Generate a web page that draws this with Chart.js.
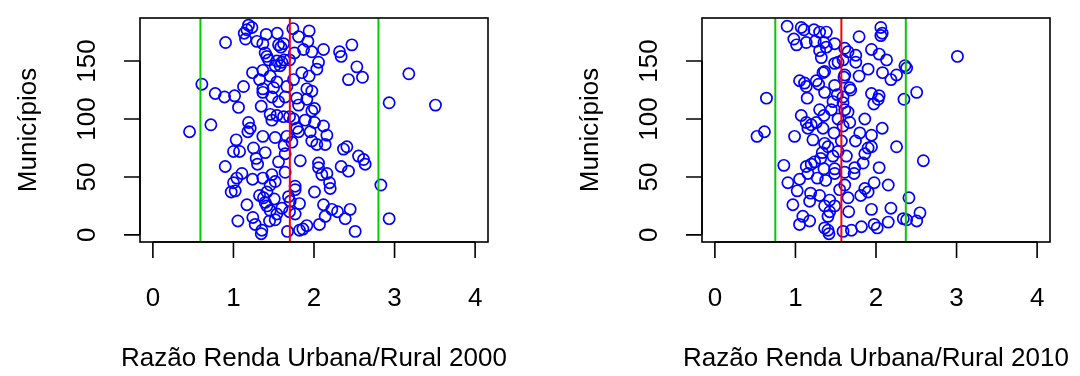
<!DOCTYPE html>
<html>
<head>
<meta charset="utf-8">
<script src="https://cdn.jsdelivr.net/npm/chart.js@4/dist/chart.umd.min.js"></script>
<style>
  html, body { margin:0; padding:0; background:#ffffff; }
  #wrap { position:relative; width:1080px; height:376px; }
  canvas { position:absolute; top:0; }
</style>
</head>
<body>
<div id="wrap">
  <canvas id="c1" width="540" height="376" style="left:0px"></canvas>
  <canvas id="c2" width="540" height="376" style="left:540px"></canvas>
</div>
<script>
// ---- data ----
const x2000 = [1.187,1.229,1.167,1.134,1.150,1.738,1.940,1.407,1.543,1.808,
1.924,0.902,1.291,1.365,1.560,1.589,1.622,2.470,2.118,1.870,
1.973,1.758,1.394,1.415,2.317,2.337,1.436,1.539,1.601,1.630,
1.696,2.056,2.035,2.532,1.580,1.518,1.365,1.237,1.849,1.940,
1.456,2.428,2.602,3.177,1.324,1.539,1.746,0.608,1.125,0.774,
0.889,1.014,1.365,1.365,1.498,1.663,1.911,1.973,1.477,1.642,
1.787,1.560,1.911,1.808,1.345,1.063,2.006,1.973,2.933,3.508,
1.456,1.539,1.622,1.696,1.477,1.746,1.890,2.006,2.118,0.720,
0.455,1.187,1.208,1.179,1.787,1.808,1.953,2.160,1.365,1.518,
1.663,1.725,1.973,2.035,2.139,1.034,1.630,1.249,1.001,1.076,
1.394,2.366,2.408,2.553,2.615,2.635,1.282,1.642,1.560,1.829,
2.056,1.299,2.056,2.337,0.898,2.428,2.160,2.097,1.642,1.105,
1.042,1.001,1.237,1.365,1.477,1.518,1.456,1.766,1.766,2.193,
2.201,2.830,0.972,1.022,2.006,1.324,1.415,1.373,1.394,1.684,
1.704,1.820,1.506,1.415,1.167,2.118,2.221,2.292,2.449,1.601,
1.696,1.766,2.139,2.387,1.241,1.055,1.448,1.518,1.270,2.933,
2.068,1.911,1.862,1.820,1.671,1.353,1.345,2.511,1.539,1.456];
const y2000 = [181,179,177,174,169,178,176,173,174,171,
167,166,167,165,164,162,165,164,160,160,
158,157,157,154,158,154,151,150,149,151,
151,149,143,145,146,146,142,140,140,137,
137,134,136,139,134,132,134,130,128,122,
119,120,126,123,127,128,126,124,119,119,
118,115,117,112,111,110,109,107,114,112,
104,103,102,102,99,100,99,97,94,95,
89,97,92,89,92,89,89,86,85,84,
85,80,81,78,78,82,77,75,72,72,
71,74,76,68,65,61,66,70,63,64,
62,61,58,59,59,55,53,52,54,53,
49,45,48,49,52,46,43,42,39,45,
40,43,37,38,37,34,37,32,28,33,
29,27,31,25,26,26,22,20,22,23,
20,18,16,14,15,12,12,13,9,14,
9,8,5,4,3,4,1,3,18,21];
const x2010 = [0.897,1.072,1.105,1.230,1.300,1.383,2.060,2.077,2.060,1.790,
0.980,1.134,1.246,1.354,1.487,1.014,1.383,1.612,1.944,1.300,
1.321,1.653,1.749,1.749,2.039,2.131,3.011,1.591,1.529,1.487,
2.359,2.380,1.902,1.362,1.342,1.612,1.790,2.081,2.255,2.185,
1.051,1.113,1.134,1.259,1.288,1.487,1.674,1.686,1.603,1.362,
2.505,0.640,1.146,1.520,1.944,2.039,2.027,1.973,2.347,1.466,
1.591,1.445,1.612,1.653,1.072,1.300,1.354,1.529,1.674,1.861,
1.134,1.196,1.259,1.155,1.342,2.077,0.615,0.523,0.989,1.217,
1.479,1.570,1.799,1.944,1.745,1.362,1.404,1.902,1.944,2.255,
1.529,1.333,1.313,1.632,1.861,2.588,1.238,0.856,1.134,1.196,
1.354,1.840,2.039,1.736,1.728,1.612,1.155,1.487,1.271,1.375,
1.051,0.906,1.977,2.152,1.612,1.549,1.022,1.861,1.902,1.811,
1.653,1.188,1.300,1.176,1.425,0.968,1.362,1.487,1.425,1.404,
1.661,1.944,2.185,2.409,2.546,1.092,1.176,1.051,2.152,2.339,
2.380,2.505,1.819,1.977,2.015,1.362,1.404,1.591,1.695,1.416,
1.487,1.466,1.591,1.591];
const y2010 = [180,179,177,177,175,175,179,174,172,171,
169,166,167,166,165,164,162,161,160,159,
153,158,155,149,156,151,154,151,149,148,
146,144,143,141,140,138,137,140,138,134,
133,131,128,133,130,129,127,125,136,123,
123,118,118,121,122,120,117,113,117,115,
114,108,108,106,103,108,103,100,97,100,
97,95,97,92,92,92,89,85,85,82,
88,81,88,86,81,79,76,75,76,76,
72,71,66,68,70,64,63,60,59,61,
57,62,58,58,53,54,53,53,49,47,
48,45,45,43,43,39,38,40,37,34,
32,36,34,29,30,26,25,25,20,16,
20,22,23,32,19,16,12,9,11,14,
13,12,7,9,6,6,4,3,4,1,
57,68,94,119];
const refLines2000 = { low: 0.59, mid: 1.70, high: 2.80 };
const refLines2010 = { low: 0.75, mid: 1.57, high: 2.37 };
const xTicks = [0, 1, 2, 3, 4];
const yTicks = [0, 50, 100, 150];
const xTitles = ["Razão Renda Urbana/Rural 2000", "Razão Renda Urbana/Rural 2010"];
const yTitle = "Municípios";
const xRange = [-0.16, 4.16];
const yRange = [-6.16, 187.16];

// ---- drawing ----
const FONT = '26px "Liberation Sans", Arial, sans-serif';

const rAxes = {
  id: 'rAxes',
  afterDraw(chart, args, opts) {
    const ctx = chart.ctx, a = chart.chartArea;
    const xs = chart.scales.x, ys = chart.scales.y;
    ctx.save();
    ctx.strokeStyle = '#000';
    ctx.lineWidth = 1.6;
    ctx.strokeRect(a.left, a.top, a.right - a.left, a.bottom - a.top);
    ctx.beginPath();
    const xa = xs.getPixelForValue(xTicks[0]), xb = xs.getPixelForValue(xTicks[xTicks.length - 1]);
    ctx.moveTo(xa, a.bottom); ctx.lineTo(xb, a.bottom);
    xTicks.forEach(v => { const p = xs.getPixelForValue(v); ctx.moveTo(p, a.bottom); ctx.lineTo(p, a.bottom + 16); });
    const ya = ys.getPixelForValue(yTicks[0]), yb = ys.getPixelForValue(yTicks[yTicks.length - 1]);
    ctx.moveTo(a.left, ya); ctx.lineTo(a.left, yb);
    yTicks.forEach(v => { const p = ys.getPixelForValue(v); ctx.moveTo(a.left, p); ctx.lineTo(a.left - 16, p); });
    ctx.stroke();

    ctx.fillStyle = '#000';
    ctx.font = FONT;
    ctx.textAlign = 'center';
    ctx.textBaseline = 'alphabetic';
    xTicks.forEach(v => ctx.fillText(String(v), xs.getPixelForValue(v), a.bottom + 64));
    yTicks.forEach(v => {
      ctx.save();
      ctx.translate(a.left - 45, ys.getPixelForValue(v));
      ctx.rotate(-Math.PI / 2);
      ctx.fillText(String(v), 0, 0);
      ctx.restore();
    });
    ctx.fillText(opts.xTitle, (a.left + a.right) / 2, a.bottom + 124);
    ctx.save();
    ctx.translate(a.left - 104, (a.top + a.bottom) / 2);
    ctx.rotate(-Math.PI / 2);
    ctx.fillText(yTitle, 0, 0);
    ctx.restore();
    ctx.restore();
  }
};

function vline(v, color) {
  return {
    type: 'line',
    data: [{ x: v, y: yRange[0] }, { x: v, y: yRange[1] }],
    borderColor: color, borderWidth: 2, pointRadius: 0, fill: false
  };
}

function makeChart(id, xs, ys, ref, title, padLeft, padRight) {
  const pts = xs.map((v, i) => ({ x: v, y: ys[i] }));
  return new Chart(document.getElementById(id), {
    type: 'scatter',
    data: {
      datasets: [
        vline(ref.mid, '#ff0000'),
        vline(ref.low, '#00cc00'),
        vline(ref.high, '#00cc00'),
        {
          type: 'scatter', data: pts,
          borderColor: '#0000ff', backgroundColor: 'rgba(0,0,0,0)',
          borderWidth: 1.7, pointRadius: 5.6, pointStyle: 'circle'
        }
      ]
    },
    options: {
      responsive: false, animation: false,
      layout: { padding: { left: padLeft, right: padRight, top: 18, bottom: 134 } },
      plugins: { legend: { display: false }, tooltip: { enabled: false }, rAxes: { xTitle: title } },
      scales: {
        x: { type: 'linear', min: xRange[0], max: xRange[1], display: false },
        y: { type: 'linear', min: yRange[0], max: yRange[1], display: false }
      }
    },
    plugins: [rAxes]
  });
}

makeChart('c1', x2000, y2000, refLines2000, xTitles[0], 140, 52);
makeChart('c2', x2010, y2010, refLines2010, xTitles[1], 162, 30);
</script>
</body>
</html>
